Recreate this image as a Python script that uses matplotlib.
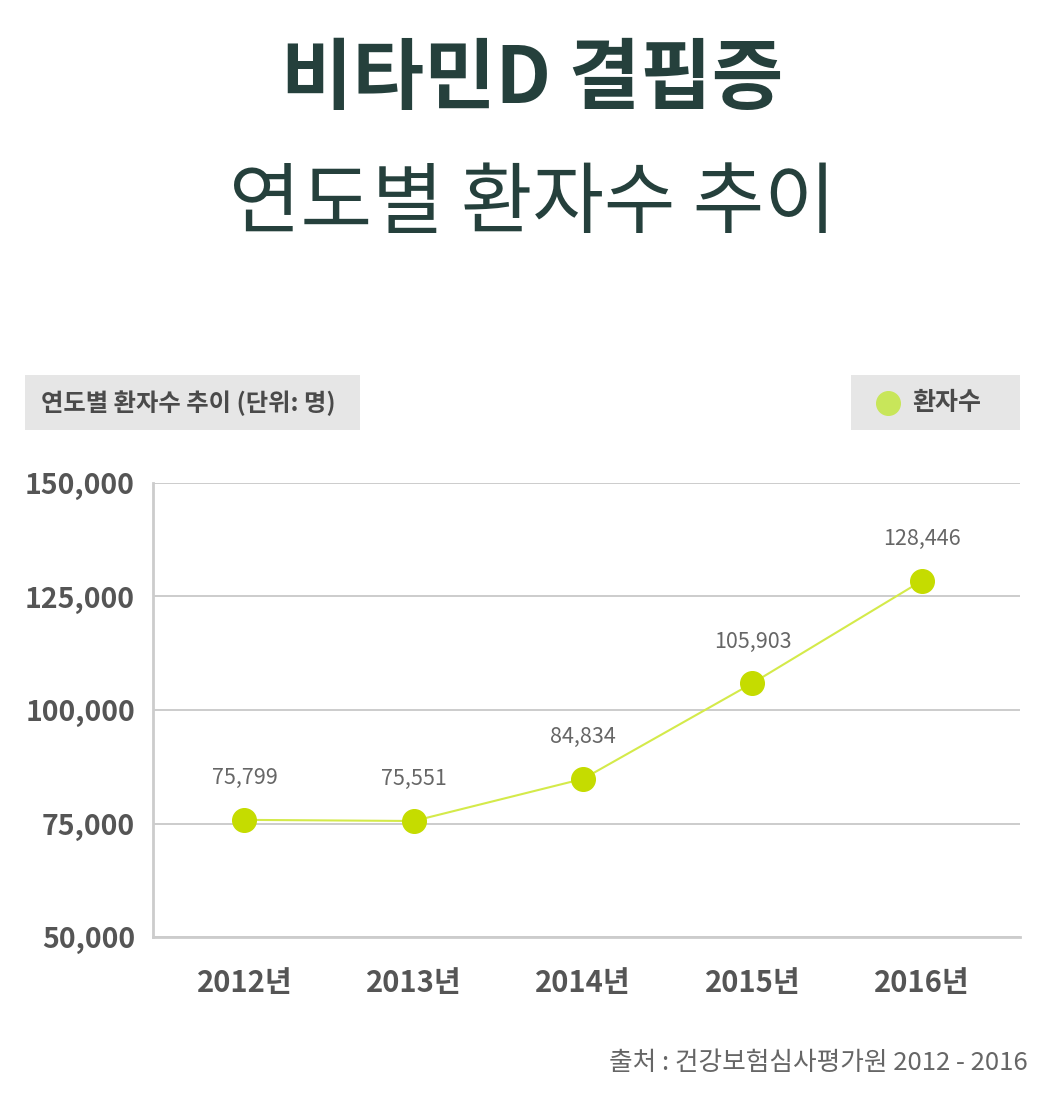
import matplotlib
matplotlib.use("Agg")
import matplotlib.pyplot as plt
from matplotlib.patches import Rectangle

plt.rcParams['font.family'] = ['Noto Sans CJK KR', 'DejaVu Sans']

years = ["2012년", "2013년", "2014년", "2015년", "2016년"]
patients = [75799, 75551, 84834, 105903, 128446]
value_labels = ["75,799", "75,551", "84,834", "105,903", "128,446"]
yticks = [50000, 75000, 100000, 125000, 150000]
ytick_labels = ["50,000", "75,000", "100,000", "125,000", "150,000"]

title_main = "비타민D 결핍증"
title_sub = "연도별 환자수 추이"
header_text = "연도별 환자수 추이 (단위: 명)"
legend_text = "환자수"
source_text = "출처 : 건강보험심사평가원 2012 - 2016"

W, H = 1064, 1105
fig = plt.figure(figsize=(W / 100, H / 100), dpi=100)
fig.patch.set_facecolor("white")

def fx(px):
    return px / W

def fy(py):
    return 1 - py / H

# Titles
fig.text(fx(532), fy(80), title_main, ha="center", va="center",
         fontsize=56, fontweight="black", color="#25403c")
fig.text(fx(532), fy(205), title_sub, ha="center", va="center",
         fontsize=56, fontweight="light", color="#25403c")

# Header boxes
fig.patches.append(Rectangle((fx(25), fy(430)), fx(335), (430 - 375) / H,
                             transform=fig.transFigure, facecolor="#e6e6e6",
                             edgecolor="none"))
fig.text(fx(41), fy(403), header_text, ha="left", va="center",
         fontsize=17.5, fontweight="bold", color="#4a4a4a")
fig.patches.append(Rectangle((fx(851), fy(430)), fx(169), (430 - 375) / H,
                             transform=fig.transFigure, facecolor="#e6e6e6",
                             edgecolor="none"))
fig.text(fx(912), fy(403), legend_text, ha="left", va="center",
         fontsize=18, fontweight="bold", color="#4a4a4a")
fig.add_artist(plt.Line2D([fx(888)], [fy(403)], transform=fig.transFigure,
                          marker="o", markersize=17, color="#c8e65a",
                          linestyle="none"))

# Axes
ax = fig.add_axes([fx(153), fy(937), fx(867), (937 - 483) / H])
x = list(range(len(years)))
ax.plot(x, patients, color="#d4ea4a", linewidth=1.5, zorder=2)
ax.plot(x, patients, linestyle="none", marker="o", markersize=17,
        color="#c5dc00", zorder=3, clip_on=False)

for xi, v, lab in zip(x, patients, value_labels):
    ax.annotate(lab, (xi, v), xytext=(0, 30), textcoords="offset points",
                ha="center", va="center", fontsize=15.5, color="#666666",
                fontweight="light")

ax.set_xlim(-0.54, 4.58)
ax.set_ylim(50000, 150000)
ax.set_yticks(yticks)
ax.set_yticklabels(ytick_labels)
ax.set_xticks(x)
ax.set_xticklabels(years)
ax.grid(axis="y", color="#c8c8c8", linewidth=1.3)
ax.set_axisbelow(True)
for s in ["top", "right"]:
    ax.spines[s].set_visible(False)
for s in ["left", "bottom"]:
    ax.spines[s].set_color("#cccccc")
    ax.spines[s].set_linewidth(2)
ax.tick_params(axis="both", length=0, labelcolor="#555555")
ax.tick_params(axis="y", pad=13, labelsize=20.5)
ax.tick_params(axis="x", pad=22, labelsize=21)
for t in ax.get_yticklabels() + ax.get_xticklabels():
    t.set_fontweight("bold")

fig.text(fx(1028), fy(1063), source_text, ha="right", va="center",
         fontsize=18.5, color="#666666", fontweight="light")

fig.savefig("out.png", dpi=100, facecolor="white")
